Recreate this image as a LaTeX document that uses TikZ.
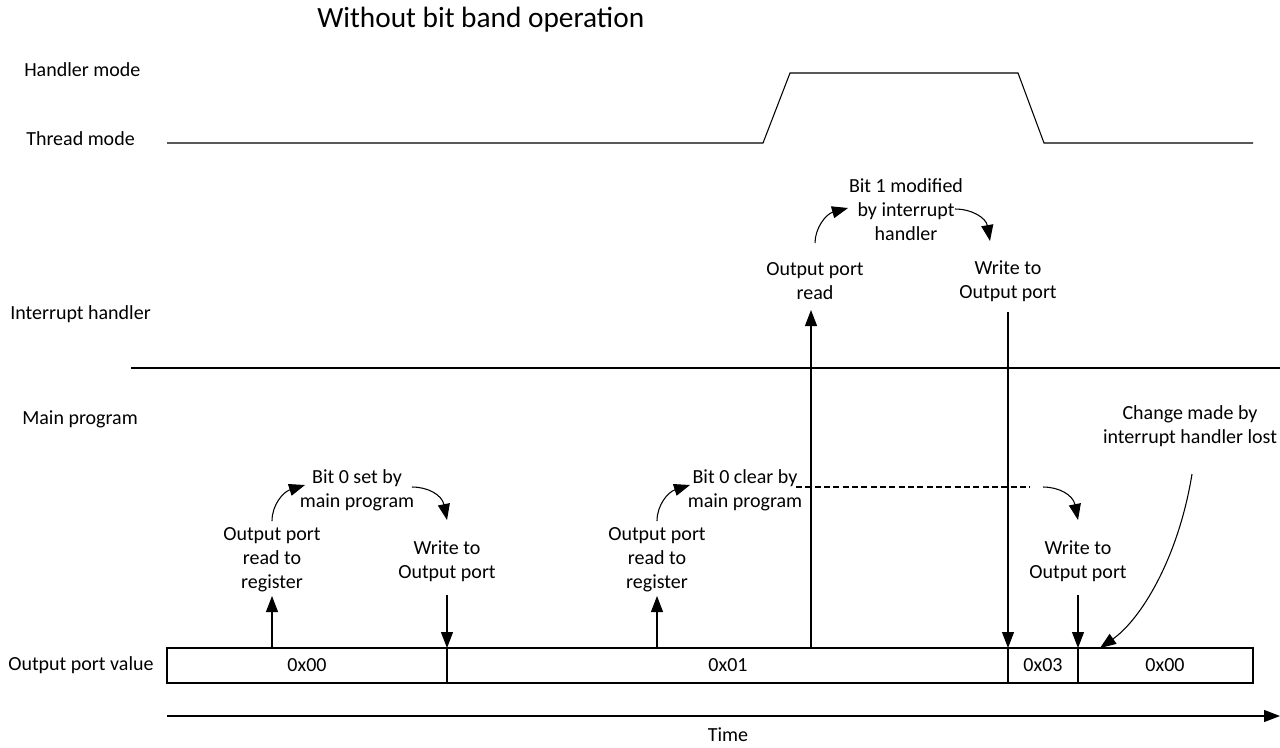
\documentclass[tikz,border=0pt]{standalone}
\usepackage{fontspec}
\setmainfont{Carlito}
\usetikzlibrary{arrows.meta}
\begin{document}
\begin{tikzpicture}[x=0.75pt,y=-0.75pt,
  lbl/.style={font=\fontsize{15}{18}\selectfont,align=center,inner sep=0pt},
  side/.style={font=\fontsize{15}{18}\selectfont,anchor=west,inner sep=0pt},
  tip/.style={-{Triangle[length=12pt,width=9pt]}},
  ln/.style={line width=0.8pt},
]
\useasboundingbox (0,0) rectangle (1280,747);
% title
\node[inner sep=0pt,font=\fontsize{22}{26}\selectfont,anchor=west] (title) at (317,20) {Without bit band operation};
% side labels
\node[side] (hm) at (24,70) {Handler mode};
\node[side] (tm) at (26,139) {Thread mode};
\node[side] (ih) at (10,314) {Interrupt handler};
\node[side] (mp) at (22,419) {Main program};
\node[side] (opv) at (8,665) {Output port value};
% mode waveform
\draw[ln] (167,143) -- (763,143) -- (790,73) -- (1018,73) -- (1044,143) -- (1253,143);
% separator
\draw[ln] (131,368) -- (1280,368);
% bar
\draw[ln] (167,648) rectangle (1253,683);
\coordinate (d1t) at (447,648); \coordinate (d1b) at (447,683);
\coordinate (d2t) at (1008,648); \coordinate (d2b) at (1008,683);
\coordinate (d3t) at (1078,648); \coordinate (d3b) at (1078,683);
\draw[ln] (d1t) -- (d1b) (d2t) -- (d2b) (d3t) -- (d3b);
\node[lbl] (v1) at (307,665) {0x00};
\node[lbl] (v2) at (728,665) {0x01};
\node[lbl] (v3) at (1043,665) {0x03};
\node[lbl] (v4) at (1165,665) {0x00};
% time
\coordinate (ts) at (167,716); \coordinate (te) at (1280,716);
\draw[ln,tip] (ts) -- (te);
\node[lbl] (time) at (728,735) {Time};
% main program first sequence
\node[lbl] (r1) at (272,560) {Output port\\read to\\register};
\coordinate (r1b) at (272,648);
\draw[ln,tip] (r1b) -- (272,596);
\node[lbl] (b0s) at (357,490) {Bit 0 set by\\main program};
\draw[ln,tip] (272,521) .. controls (272,505) and (283,492) .. (305,485);
\draw[ln,tip] (412,487) .. controls (428,487) and (442,495) .. (447,520);
\node[lbl] (w1) at (447,561) {Write to\\Output port};
\draw[ln,tip] (447,595) -- (d1t);
% main program second sequence
\node[lbl] (r2) at (657,560) {Output port\\read to\\register};
\draw[ln,tip] (657,648) -- (657,596);
\node[lbl] (b0c) at (745,490) {Bit 0 clear by\\main program};
\draw[ln,tip] (657,521) .. controls (657,505) and (668,492) .. (690,485);
\draw[ln,dash pattern=on 4.5pt off 2.5pt] (796,487) -- (1030,487);
\draw[ln,tip] (1043,487) .. controls (1059,487) and (1073,495) .. (1078,520);
\node[lbl] (w2) at (1078,561) {Write to\\Output port};
\draw[ln,tip] (1078,595) -- (d3t);
% interrupt sequence
\node[lbl] (r3) at (815,281) {Output port\\read};
\draw[ln,tip] (811,648) -- (811,310);
\node[lbl] (b1m) at (906,210) {Bit 1 modified\\by interrupt\\handler};
\draw[ln,tip] (815,243) .. controls (815,228) and (826,214) .. (848,208);
\draw[ln,tip] (955,209) .. controls (972,209) and (986,218) .. (990,241);
\node[lbl] (w3) at (1008,281) {Write to\\Output port};
\draw[ln,tip] (1008,312) -- (d2t);
% change lost
\node[lbl] (lost) at (1190,426) {Change made by\\interrupt handler lost};
\draw[ln,tip] (1192,474) .. controls (1178,560) and (1140,620) .. (1100,648);
\end{tikzpicture}
\end{document}
